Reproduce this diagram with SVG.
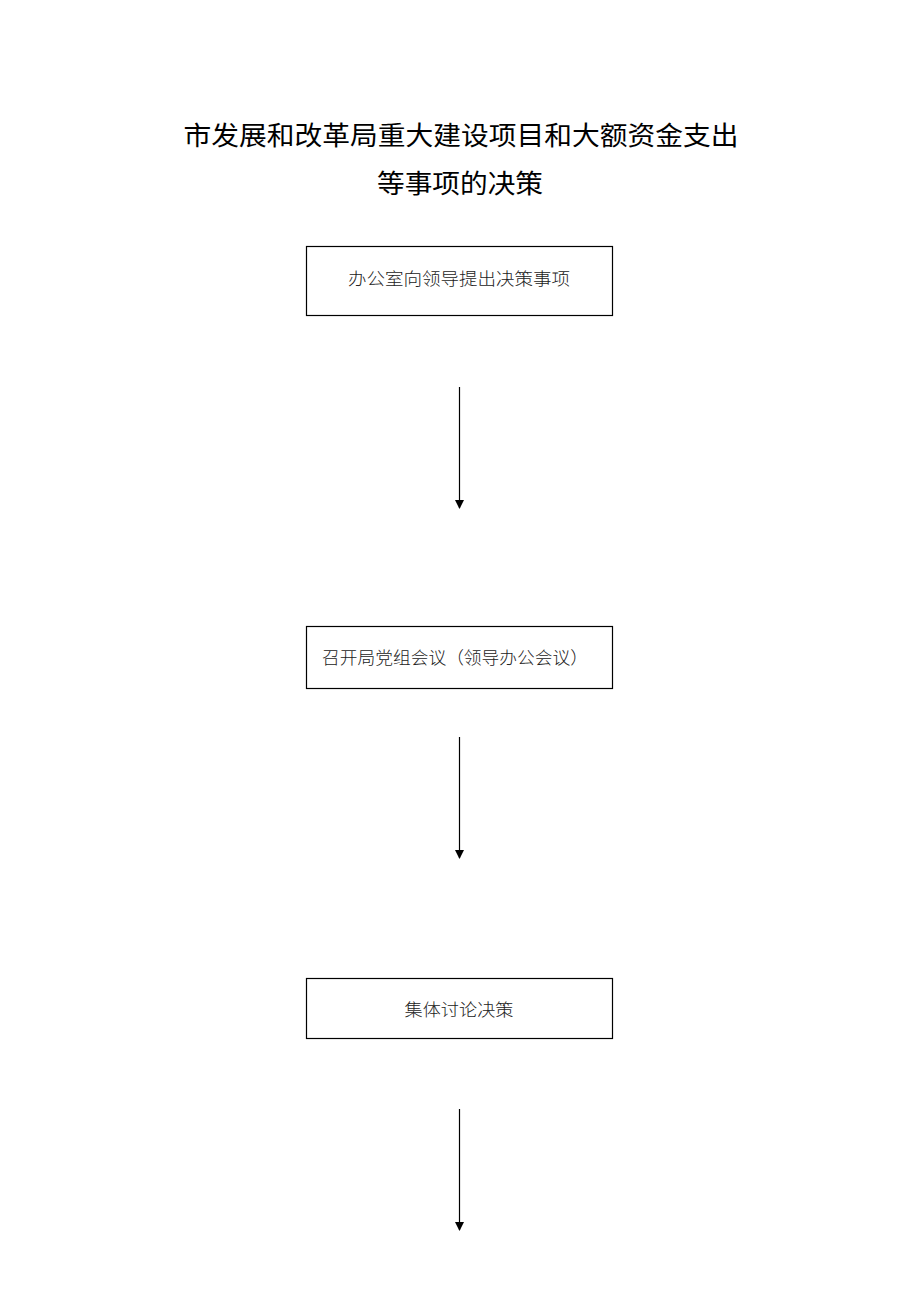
<svg xmlns="http://www.w3.org/2000/svg" width="920" height="1302" viewBox="0 0 920 1302">
<style>
.bg{fill:#ffffff}
.box{fill:#ffffff;stroke:#000000;stroke-width:1.2}
.t{font-family:"Noto Sans CJK SC","Noto Sans CJK JP",sans-serif;font-size:17.5px;fill:#222222;font-weight:300}
.title{font-family:"Noto Sans CJK SC","Noto Sans CJK JP",sans-serif;font-size:26px;fill:#000000;font-weight:400}
.edge{stroke:#000000;stroke-width:1.2;fill:none}
</style>
<defs>
<marker id="arr" markerWidth="9" markerHeight="11" refX="8" refY="4.5" orient="auto" markerUnits="userSpaceOnUse">
<path d="M0,0 L9,4.5 L0,9 Z" fill="#000000"/>
</marker>
</defs>
<rect class="bg" x="0" y="0" width="920" height="1302"/>
<g id="title">
<text class="title" x="461" y="145" text-anchor="middle" textLength="555" lengthAdjust="spacingAndGlyphs">市发展和改革局重大建设项目和大额资金支出</text>
<text class="title" x="460" y="193" text-anchor="middle" textLength="166" lengthAdjust="spacingAndGlyphs">等事项的决策</text>
</g>
<g id="node1">
<rect class="box" x="306.5" y="246.5" width="306" height="69"/>
<text class="t" x="459" y="285" text-anchor="middle" textLength="222" lengthAdjust="spacingAndGlyphs">办公室向领导提出决策事项</text>
</g>
<g id="node2">
<rect class="box" x="306.5" y="626.5" width="306" height="62"/>
<text class="t" x="322" y="664" textLength="266" lengthAdjust="spacingAndGlyphs">召开局党组会议（领导办公会议）</text>
</g>
<g id="node3">
<rect class="box" x="306.5" y="978.5" width="306" height="60"/>
<text class="t" x="459" y="1016" text-anchor="middle" textLength="109" lengthAdjust="spacingAndGlyphs">集体讨论决策</text>
</g>
<g id="connectors">
<line class="edge" x1="459.5" y1="387" x2="459.5" y2="508" marker-end="url(#arr)"/>
<line class="edge" x1="459.5" y1="737" x2="459.5" y2="858" marker-end="url(#arr)"/>
<line class="edge" x1="459.5" y1="1109" x2="459.5" y2="1230" marker-end="url(#arr)"/>
</g>
</svg>
